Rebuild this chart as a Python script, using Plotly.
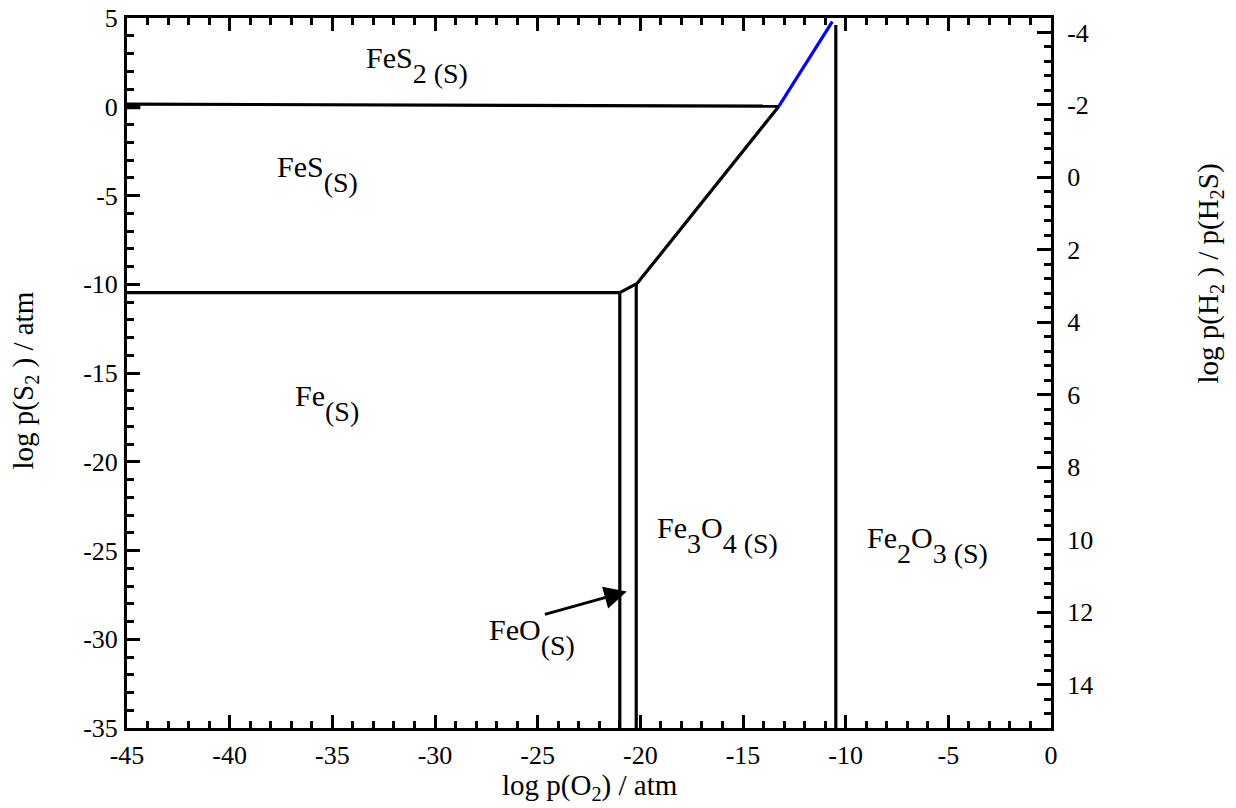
import plotly.graph_objects as go

# ---- data ----
x_ticks = [-45, -40, -35, -30, -25, -20, -15, -10, -5, 0]
x_ticktext = ["-45", "-40", "-35", "-30", "-25", "-20", "-15", "-10", "-5", "0"]
y_ticks = [5, 0, -5, -10, -15, -20, -25, -30, -35]
y_ticktext = ["5", "0", "-5", "-10", "-15", "-20", "-25", "-30", "-35"]
y2_ticks = [-4, -2, 0, 2, 4, 6, 8, 10, 12, 14]
y2_ticktext = ["-4", "-2", "0", "2", "4", "6", "8", "10", "12", "14"]

# phase boundaries (log pO2, log pS2)
fes2_fes_x = [-45, -13.25]
fes2_fes_y = [0.15, 0.03]
stub_x = [-45, -44.35]
stub_y = [0.0, 0.0]
fes_fe3o4_x = [-13.25, -20.15]
fes_fe3o4_y = [0.03, -9.95]
fes2_fe2o3_x = [-13.25, -10.65]
fes2_fe2o3_y = [0.03, 4.8]
fe3o4_fe2o3_x = [-10.48, -10.48]
fe3o4_fe2o3_y = [4.6, -35]
fe_fes_x = [-45, -21.0]
fe_fes_y = [-10.47, -10.47]
feo_fes_x = [-21.0, -20.15]
feo_fes_y = [-10.47, -9.95]
fe_feo_x = [-21.0, -21.0]
fe_feo_y = [-10.47, -35]
feo_fe3o4_x = [-20.2, -20.2]
feo_fe3o4_y = [-9.95, -35]

black_lines = [
    (fes2_fes_x, fes2_fes_y),
    (fes_fe3o4_x, fes_fe3o4_y),
    (fe3o4_fe2o3_x, fe3o4_fe2o3_y),
    (fe_fes_x, fe_fes_y),
    (feo_fes_x, feo_fes_y),
    (fe_feo_x, fe_feo_y),
    (feo_fe3o4_x, feo_fe3o4_y),
]

SUB = '<span style="font-size:28px;baseline-shift:-15px">{}</span>'

# region labels: text, x, y (left edge, data coords)
labels = [
    ("FeS" + SUB.format("2 (S)"), -33.45, 2.35),
    ("FeS" + SUB.format("(S)"), -37.8, -3.8),
    ("Fe" + SUB.format("(S)"), -36.9, -16.7),
    ("Fe" + SUB.format("3") + "O" + SUB.format("4 (S)"), -19.3, -24.1),
    ("Fe" + SUB.format("2") + "O" + SUB.format("3 (S)"), -9.05, -24.7),
    ("FeO" + SUB.format("(S)"), -27.45, -29.9),
]

# arrow (head, tail)
arrow_head = (-20.66, -27.31)
arrow_tail = (-24.72, -28.62)

FONT = "Liberation Serif"

fig = go.Figure()
for xs, ys in black_lines:
    fig.add_trace(go.Scatter(x=xs, y=ys, mode="lines",
                             line=dict(color="black", width=3.2), showlegend=False,
                             hoverinfo="skip"))
fig.add_trace(go.Scatter(x=stub_x, y=stub_y, mode="lines",
                         line=dict(color="black", width=5), showlegend=False,
                         hoverinfo="skip"))
fig.add_trace(go.Scatter(x=fes2_fe2o3_x, y=fes2_fe2o3_y, mode="lines",
                         line=dict(color="#0000ff", width=3.2), showlegend=False,
                         hoverinfo="skip"))
# dummy trace for secondary axis
fig.add_trace(go.Scatter(x=[None], y=[None], yaxis="y2", showlegend=False))

annotations = []
for text, x, y in labels:
    annotations.append(dict(text=text, x=x, y=y, xref="x", yref="y",
                            xanchor="left", yanchor="middle", showarrow=False,
                            font=dict(family=FONT, size=30, color="black")))
annotations.append(dict(x=arrow_head[0], y=arrow_head[1], ax=arrow_tail[0], ay=arrow_tail[1],
                        xref="x", yref="y", axref="x", ayref="y", text="",
                        showarrow=True, arrowhead=2, arrowsize=1.5, arrowwidth=3,
                        arrowcolor="black"))
annotations.append(dict(text="log p(O<sub>2</sub>) / atm", x=0.501, y=-0.083,
                        xref="paper", yref="paper", showarrow=False,
                        xanchor="center", yanchor="middle",
                        font=dict(family=FONT, size=29, color="black")))
annotations.append(dict(text="log p(S<sub>2</sub> ) / atm", x=-0.110, y=0.49,
                        xref="paper", yref="paper", showarrow=False, textangle=-90,
                        xanchor="center", yanchor="middle",
                        font=dict(family=FONT, size=29, color="black")))
annotations.append(dict(text="log p(H<sub>2</sub> ) / p(H<sub>2</sub>S)", x=1.172, y=0.64,
                        xref="paper", yref="paper", showarrow=False, textangle=-90,
                        xanchor="center", yanchor="middle",
                        font=dict(family=FONT, size=29, color="black")))

tickfont = dict(family=FONT, size=26, color="black")
fig.update_layout(
    width=1236, height=808,
    margin=dict(l=127, r=185, t=18, b=80, autoexpand=False),
    plot_bgcolor="white", paper_bgcolor="white",
    showlegend=False,
    annotations=annotations,
    xaxis=dict(range=[-45, 0], showgrid=False, zeroline=False, automargin=False,
               showline=True, linewidth=3, linecolor="black", mirror="ticks",
               ticks="inside", ticklen=13, tickwidth=2.5, tickcolor="black",
               tickmode="array", tickvals=x_ticks, ticktext=x_ticktext,
               tickfont=tickfont, ticklabelstandoff=2, ticklabeloverflow="allow",
               minor=dict(tickmode="linear", tick0=0, dtick=1, ticks="inside",
                          ticklen=7, tickwidth=2.5, tickcolor="black")),
    yaxis=dict(range=[-35, 5], showgrid=False, zeroline=False, automargin=False,
               showline=True, linewidth=3, linecolor="black",
               ticks="inside", ticklen=13, tickwidth=2.5, tickcolor="black",
               tickmode="array", tickvals=y_ticks, ticktext=y_ticktext,
               tickfont=tickfont, ticklabelstandoff=1, ticklabeloverflow="allow",
               minor=dict(tickmode="linear", tick0=0, dtick=1, ticks="inside",
                          ticklen=7, tickwidth=2.5, tickcolor="black")),
    yaxis2=dict(range=[15.2, -4.4], overlaying="y", side="right", automargin=False,
                showgrid=False, zeroline=False,
                showline=True, linewidth=3, linecolor="black",
                ticks="inside", ticklen=14, tickwidth=2.5, tickcolor="black",
                tickmode="array", tickvals=y2_ticks, ticktext=y2_ticktext,
                tickfont=tickfont, ticklabelstandoff=8, ticklabeloverflow="allow",
                minor=dict(tickmode="linear", tick0=0, dtick=0.4, ticks="inside",
                           ticklen=7, tickwidth=2.5, tickcolor="black")),
)

# remove the default 8px page margin so the figure fills the window exactly
fig.write_html("out.html", config={"displayModeBar": False},
               post_script="document.body.style.margin='0px';document.body.style.overflow='hidden';")
